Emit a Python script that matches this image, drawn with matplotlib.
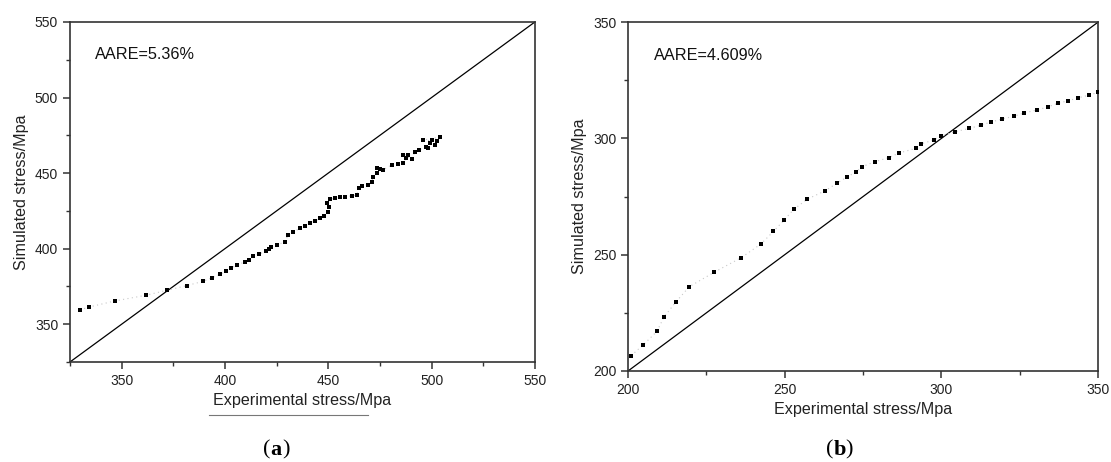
import matplotlib
matplotlib.use("Agg")
import matplotlib.pyplot as plt
from matplotlib.lines import Line2D
from matplotlib.ticker import MultipleLocator

plt.rcParams["font.family"] = ["Liberation Sans", "DejaVu Sans"]

# Panel (a): experimental vs simulated stress (MPa)
exp_a = [329.8, 334.3, 346.8, 361.6, 371.8, 381.4, 389.5, 393.8, 397.6, 400.5,
         402.7, 406.0, 409.5, 411.5, 413.7, 416.6, 419.8, 421.3, 422.3, 425.3,
         429.0, 430.6, 433.1, 436.3, 438.7, 441.1, 443.5, 446.0, 447.9, 450.0,
         450.5, 449.2, 450.8, 453.2, 455.6, 458.1, 461.3, 463.7, 465.0, 466.1,
         469.4, 471.0, 471.8, 473.4, 473.4, 475.0, 476.6, 480.6, 483.8, 486.3,
         487.6, 488.7, 486.0, 490.5, 491.9, 494.0, 497.5, 498.4, 499.2, 500.0,
         501.5, 502.5, 495.9, 504.0]
sim_a = [359.4, 361.4, 365.4, 369.1, 372.4, 375.5, 378.4, 380.8, 383.0, 385.0,
         387.0, 389.2, 391.2, 392.7, 395.0, 396.5, 398.2, 400.0, 401.3, 402.6,
         404.4, 409.0, 411.2, 413.4, 415.0, 416.8, 418.3, 420.1, 421.8, 424.5,
         427.8, 430.0, 432.7, 433.3, 434.0, 434.4, 434.9, 435.5, 440.0, 441.5,
         442.1, 444.3, 447.6, 450.3, 453.2, 452.5, 452.1, 455.4, 456.0, 456.9,
         459.8, 462.0, 462.0, 459.5, 464.2, 465.5, 467.0, 466.4, 469.7, 471.9,
         468.5, 471.0, 471.9, 473.7]

# Panel (b): experimental vs simulated stress (MPa)
exp_b = [201.0, 204.9, 209.2, 211.5, 215.3, 219.5, 227.4, 236.1, 242.4, 246.4,
         249.8, 252.9, 257.1, 262.9, 266.6, 270.0, 272.8, 274.6, 278.8, 283.3,
         286.6, 291.8, 293.4, 297.5, 299.8, 304.4, 308.9, 312.7, 315.9, 319.3,
         323.3, 326.5, 330.4, 334.1, 337.1, 340.5, 343.7, 347.2, 349.9]
sim_b = [206.6, 211.3, 217.0, 223.3, 229.7, 236.2, 242.4, 248.7, 254.6, 260.0,
         264.9, 269.5, 273.8, 277.5, 280.7, 283.5, 285.6, 287.8, 290.0, 291.8,
         293.8, 295.7, 297.6, 299.3, 301.0, 302.9, 304.3, 305.7, 307.1, 308.3,
         309.6, 311.0, 312.2, 313.6, 315.1, 316.2, 317.5, 318.6, 319.8]

panels = [
    dict(x=exp_a, y=sim_a, lim=(325, 550), major=50, text="AARE=5.36%",
         rect=[0.063, 0.2165, 0.4185, 0.736], caption="a", cap_x=0.2435,
         text_pos=(0.053, 0.905)),
    dict(x=exp_b, y=sim_b, lim=(200, 350), major=50, text="AARE=4.609%",
         rect=[0.5653, 0.197, 0.423, 0.755], caption="b", cap_x=0.7505,
         text_pos=(0.055, 0.905)),
]

fig = plt.figure(figsize=(11.11, 4.62), dpi=100)
spine_col = "#333333"
cap_y = 0.027

for p in panels:
    ax = fig.add_axes(p["rect"])
    lo, hi = p["lim"]
    ax.plot([lo, hi], [lo, hi], color="black", lw=0.9, zorder=2)
    ax.plot(p["x"], p["y"], linestyle=(0, (1, 3)), color="#c8c8c8", lw=0.8,
            zorder=3)
    ax.plot(p["x"], p["y"], linestyle="none", marker="s", markersize=2.3,
            color="black", markeredgewidth=0, zorder=4)
    ax.set_xlim(lo, hi)
    ax.set_ylim(lo, hi)
    ax.xaxis.set_major_locator(MultipleLocator(p["major"]))
    ax.yaxis.set_major_locator(MultipleLocator(p["major"]))
    ax.xaxis.set_minor_locator(MultipleLocator(p["major"] / 2))
    ax.yaxis.set_minor_locator(MultipleLocator(p["major"] / 2))
    ax.tick_params(which="both", direction="out", colors=spine_col,
                   labelcolor="#222222", labelsize=10, top=False, right=False)
    ax.tick_params(which="major", length=5, width=1.1)
    ax.tick_params(which="minor", length=3, width=1.0)
    for s in ax.spines.values():
        s.set_color(spine_col)
        s.set_linewidth(1.2)
    ax.set_xlabel("Experimental stress/Mpa", fontsize=11.6, color="#222222",
                  labelpad=4)
    ax.set_ylabel("Simulated stress/Mpa", fontsize=11.6, color="#222222",
                  labelpad=4)
    ax.text(p["text_pos"][0], p["text_pos"][1], p["text"],
            transform=ax.transAxes, fontsize=11.7, color="#111111",
            va="center", ha="left")
    fig.text(p["cap_x"], cap_y, "(", fontsize=16, family="Liberation Serif",
             ha="right", va="center")
    fig.text(p["cap_x"], cap_y, p["caption"], fontsize=16,
             family="Liberation Serif", fontweight="bold", ha="left",
             va="center")
    fig.text(p["cap_x"] + 0.0105, cap_y, ")", fontsize=16,
             family="Liberation Serif", ha="left", va="center")

# thin rule under the left x-axis title
fig.add_artist(Line2D([209 / 1111, 368 / 1111], [1 - 415 / 462, 1 - 415 / 462],
                      color="#777777", lw=0.8))

fig.savefig("out.png", dpi=100, facecolor="white")
